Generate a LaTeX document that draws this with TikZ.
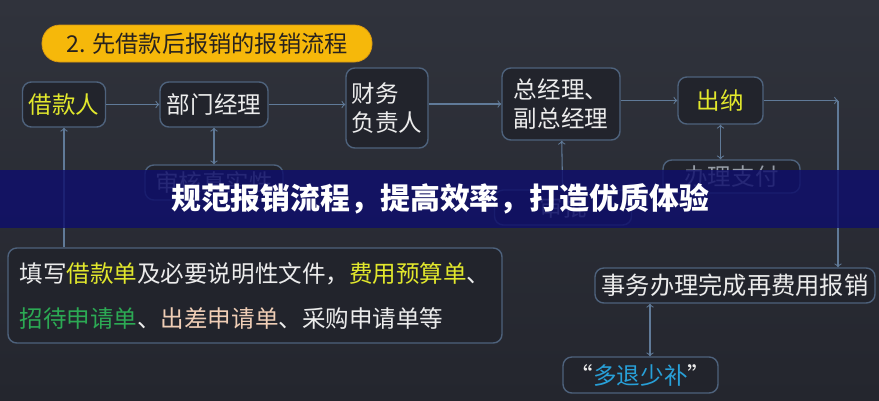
\documentclass[tikz,border=0pt]{standalone}
\usepackage{fontspec}
\setmainfont{Noto Sans CJK SC}
\usetikzlibrary{shapes, arrows}

\definecolor{bgtop}{RGB}{48,51,60}
\definecolor{bgbottom}{RGB}{36,38,46}
\definecolor{boxline}{RGB}{78,98,124}
\definecolor{boxfill}{RGB}{34,36,44}
\definecolor{arrowline}{RGB}{96,122,152}
\definecolor{txtwhite}{RGB}{236,236,236}
\definecolor{hlyellow}{RGB}{226,232,44}
\definecolor{hlgreen}{RGB}{44,170,84}
\definecolor{hlpeach}{RGB}{240,206,182}
\definecolor{hlblue}{RGB}{40,160,216}
\definecolor{dimtext}{RGB}{150,156,166}
\definecolor{titleyellow}{RGB}{246,184,10}
\definecolor{titleedge}{RGB}{214,150,20}
\definecolor{titletext}{RGB}{40,34,30}
\definecolor{banner}{RGB}{14,14,108}

\begin{document}
\begin{tikzpicture}[
			x=0.2mm, y=-0.2mm,
			font=\fontsize{13.4}{17}\selectfont,
			every node/.style={text=txtwhite, align=left, inner sep=0pt},
			box/.style={draw=boxline, fill=boxfill, rounded corners=5pt, line width=.8pt},
			to/.style={->, draw=arrowline, semithick},
			both/.style={<->, draw=arrowline, semithick}
			]
			
			\shade[top color=bgtop, bottom color=bgbottom] (0,0) rectangle (879,400);
			
			\node[fill=titleyellow, draw=titleedge, rounded corners=10pt, minimum width=66mm, minimum height=7.4mm,
				text=titletext, font=\fontsize{13.2}{14}\selectfont] (title) at (207,43.5) {2. 先借款后报销的报销流程};
			
			% top row
			\node[box, minimum width=16.6mm, minimum height=9mm, text=hlyellow] (jkr) at (64,104.5) {借款人};
			\node[box, minimum width=21.6mm, minimum height=9mm] (bmjl) at (214,104.5) {部门经理};
			\node[box, minimum width=16.4mm, minimum height=16mm] (cwfz) at (387,108) {财务\\负责人};
			\node[box, minimum width=23.6mm, minimum height=14.4mm] (zjl) at (561,104) {总经理、\\副总经理};
			\node[box, minimum width=17mm, minimum height=9.4mm, text=hlyellow] (cn) at (720.5,100.5) {出纳};
			\coordinate (turn) at (838,100.5);
			
			\node[box, minimum width=27.6mm, minimum height=7mm, text=dimtext] (shzs) at (214,182.5) {审核真实性};
			\node[box, minimum width=27.4mm, minimum height=7mm, text=dimtext] (sp) at (563,207.5) {审批};
			\node[box, minimum width=27.4mm, minimum height=6.6mm, text=dimtext] (blzf) at (731.5,176.5) {办理支付};
			
			\node[box, minimum width=98.8mm, minimum height=19mm, font=\fontsize{13.4}{25.6}\selectfont] (tx) at (255,295.5)
				{填写\textcolor{hlyellow}{借款单}及必要说明性文件，\textcolor{hlyellow}{费用预算单}、\\
				 \textcolor{hlgreen}{招待申请单}、\textcolor{hlpeach}{出差申请单}、采购申请单等};
			\node[box, minimum width=56mm, minimum height=7mm, font=\fontsize{13.8}{17}\selectfont] (swbl) at (735,285.5) {事务办理完成再费用报销};
			\node[box, minimum width=31mm, minimum height=7.2mm] (dtsb) at (640.5,375) {“\textcolor{hlblue}{多退少补}”};
			
			\draw[to] (jkr) -- (bmjl);
			\draw[to] (bmjl.east) -- (bmjl.east -| cwfz.west);
			\draw[to] (cwfz.east |- zjl) -- (zjl.west);
			\draw[to] (zjl.east |- cn) -- (cn.west);
			\draw[to] (cn.east) -- (turn);
			\draw[to] (turn) -- (turn |- swbl.north);
			\draw[to] (tx.north -| jkr) -- (jkr.south);
			\draw[both] (bmjl) -- (shzs);
			\draw[both] (zjl) -- (sp);
			\draw[both] (cn.south) -- (cn.south |- blzf.north);
			\draw[both] (swbl.south -| 650,0) -- (dtsb.north -| 650,0);
			
			\fill[banner, opacity=.82] (0,170) rectangle (879,228);
			\node[text=white, font=\bfseries\fontsize{17}{17}\selectfont] (slogan) at (440,199) {规范报销流程，提高效率，打造优质体验};
			
			\end{tikzpicture}
\end{document}
